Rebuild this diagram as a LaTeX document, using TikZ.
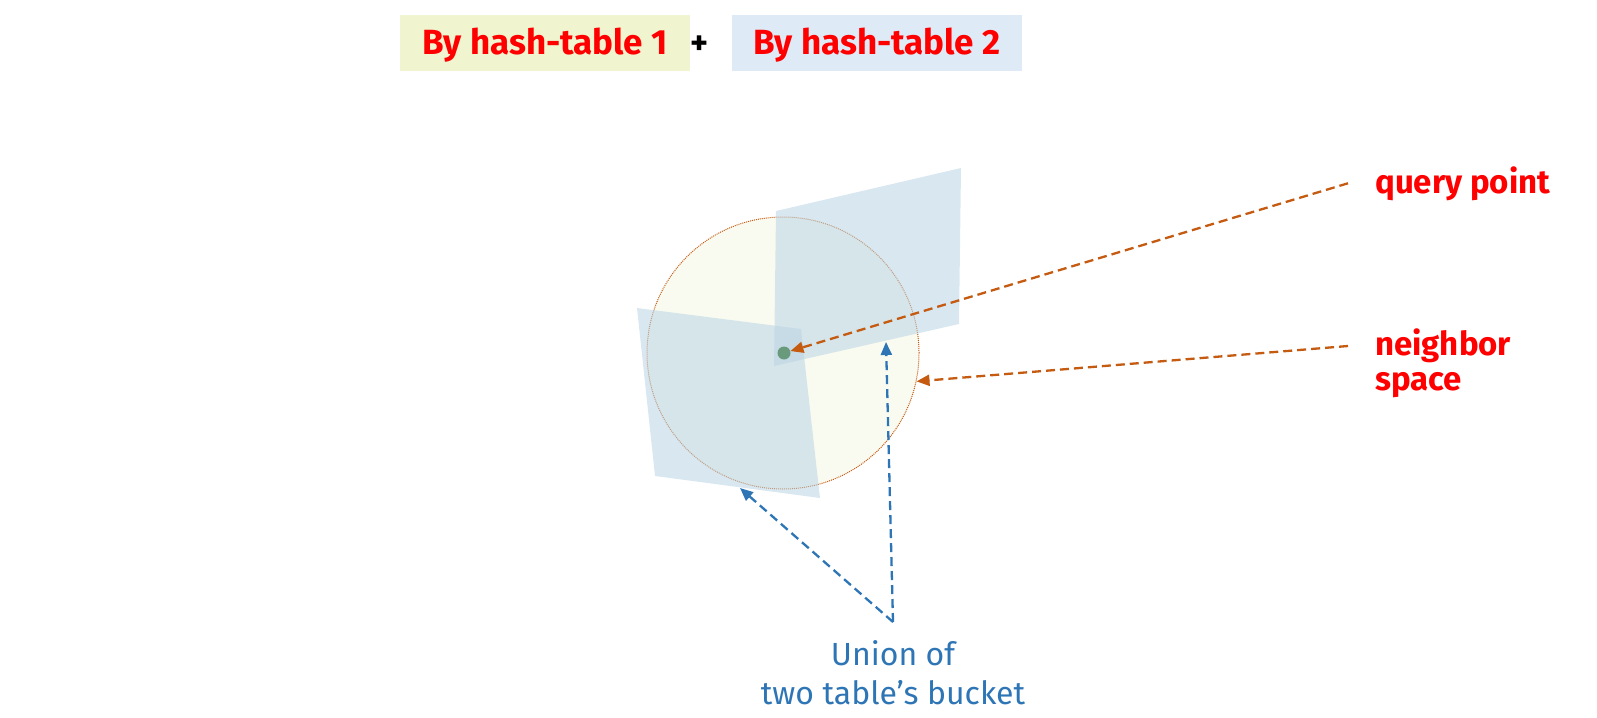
\documentclass[tikz,border=0pt]{standalone}
\usepackage{fontspec}
\setmainfont{Fira Sans}
\usepackage{xcolor}
\definecolor{tableone}{RGB}{240,245,208}
\definecolor{tabletwo}{RGB}{222,235,247}
\definecolor{bucketblue}{RGB}{186,212,228}
\definecolor{spaceyellow}{RGB}{250,251,240}
\definecolor{myorange}{RGB}{197,90,17}
\definecolor{myblue}{RGB}{46,117,182}
\definecolor{querygreen}{RGB}{106,154,124}
\usetikzlibrary{arrows.meta}
\tikzset{
    redlabel/.style={text=red, font=\fontsize{33}{35}\selectfont\bfseries},
    hashbox/.style={redlabel, font=\fontsize{35}{35}\selectfont\bfseries, minimum width=290pt, minimum height=56pt, inner sep=0pt},
    sidelabel/.style={redlabel, inner xsep=27pt, inner ysep=0pt, align=left},
    bluelabel/.style={text=myblue, font=\fontsize{32}{39}\selectfont, align=center, inner xsep=0pt, inner ysep=18pt},
    bucket/.style={fill=bucketblue, fill opacity=0.55},
    pointer/.style={line width=2.3pt, dash pattern=on 9pt off 5pt, -{Triangle[length=13pt,width=11pt]}},
}

\begin{document}
\begin{tikzpicture}[x=1pt, y=-1pt]
    \useasboundingbox (0,0) rectangle (1597,717);

    \node[hashbox, fill=tableone, text depth=3pt] (table1) at (545,43) {By hash-table 1};
    \node[hashbox, fill=tabletwo, text depth=3pt] (table2) at (877,43) {By hash-table 2};
    \node[font=\fontsize{34}{35}\selectfont\bfseries] (plus) at (700,45) {+};

    \node[circle, draw=myorange, densely dotted, line width=1pt, fill=spaceyellow,
          minimum size=272pt, inner sep=0pt] (space) at (783,353) {};

    \fill[bucket] (637,308) -- (801,329) -- (820,498) -- (655,476) -- cycle;
    \fill[bucket] (776,211) -- (961,168) -- (959,324) -- (774,366) -- cycle;

    \node[circle, fill=querygreen, minimum size=13pt, inner sep=0pt] (qp) at (784,353) {};

    \node[sidelabel, anchor=base west] (query) at (1348,193) {query point};
    \node[sidelabel, anchor=north west] (neighbor) at (1348,329) {neighbor\\space};
    \node[bluelabel, anchor=north] (union) at (893,622) {Union of\\two table’s bucket};

    \coordinate (hit1) at (886,342);
    \coordinate (hit2) at (740,488);

    \draw[pointer, myorange] (query.west) -- (qp);
    \draw[pointer, myorange] ([yshift=-17pt]neighbor.north west) -- (space.-12);
    \draw[pointer, myblue] (union.north) -- (hit1);
    \draw[pointer, myblue] (union.north) -- (hit2);
\end{tikzpicture}
\end{document}
